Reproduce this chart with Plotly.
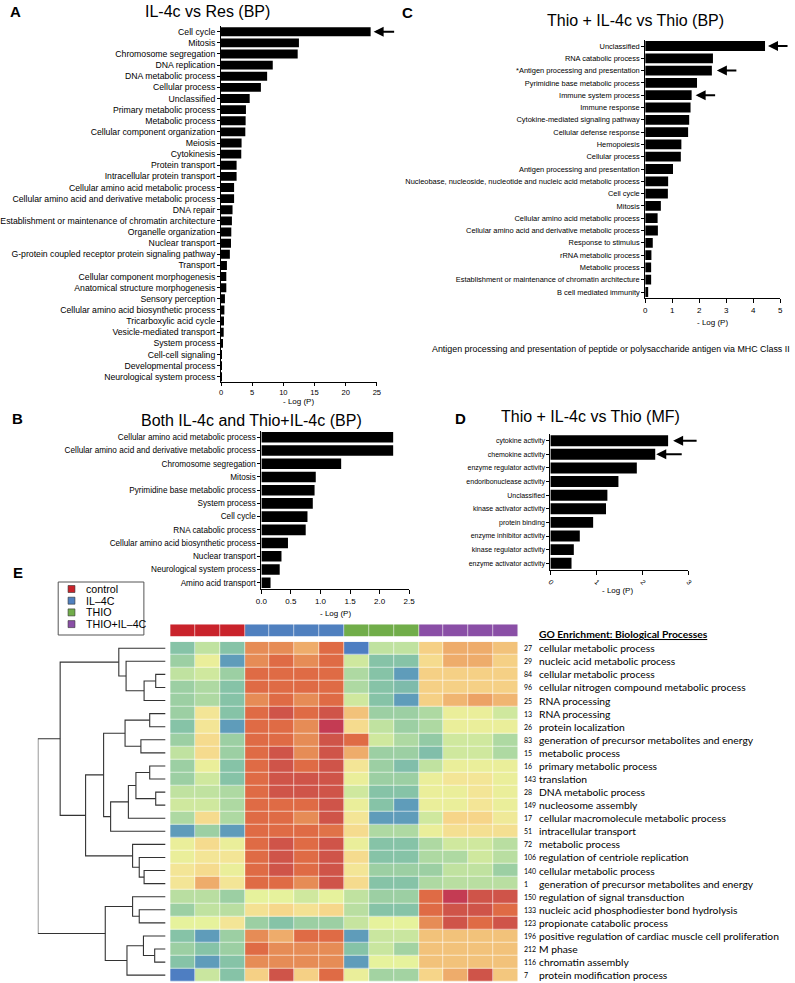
import plotly.graph_objects as go

W, H = 795, 983
def fx(p): return p / W
def fy(p): return 1 - p / H

# ---------------- data ----------------
A_labels = ["Cell cycle", "Mitosis", "Chromosome segregation", "DNA replication", "DNA metabolic process",
            "Cellular process", "Unclassified", "Primary metabolic process", "Metabolic process",
            "Cellular component organization", "Meiosis", "Cytokinesis", "Protein transport",
            "Intracellular protein transport", "Cellular amino acid metabolic process",
            "Cellular amino acid and derivative metabolic process", "DNA repair",
            "Establishment or maintenance of chromatin architecture", "Organelle organization",
            "Nuclear transport", "G-protein coupled receptor protein signaling pathway", "Transport",
            "Cellular component morphogenesis", "Anatomical structure morphogenesis", "Sensory perception",
            "Cellular amino acid biosynthetic process", "Tricarboxylic acid cycle", "Vesicle-mediated transport",
            "System process", "Cell-cell signaling", "Developmental process", "Neurological system process"]
A_values = [24.0, 12.5, 12.3, 8.3, 7.4, 6.4, 4.6, 4.0, 3.95, 3.9, 3.3, 3.25, 2.5, 2.5, 2.1, 2.1, 1.85,
            1.75, 1.65, 1.6, 1.42, 0.95, 0.85, 0.85, 0.63, 0.54, 0.48, 0.43, 0.27, 0.16, 0.1, 0.05]

C_labels = ["Unclassified", "RNA catabolic process", "*Antigen processing and presentation",
            "Pyrimidine base metabolic process", "Immune system process", "Immune response",
            "Cytokine-mediated signaling pathway", "Cellular defense response", "Hemopoiesis",
            "Cellular process", "Antigen processing and presentation",
            "Nucleobase, nucleoside, nucleotide and nucleic acid metabolic process", "Cell cycle", "Mitosis",
            "Cellular amino acid metabolic process", "Cellular amino acid and derivative metabolic process",
            "Response to stimulus", "rRNA metabolic process", "Metabolic process",
            "Establishment or maintenance of chromatin architecture", "B cell mediated immunity"]
C_values = [4.44, 2.51, 2.47, 1.92, 1.72, 1.68, 1.63, 1.59, 1.34, 1.32, 1.03, 0.85, 0.84, 0.58,
            0.46, 0.47, 0.28, 0.23, 0.22, 0.22, 0.11]

B_labels = ["Cellular amino acid metabolic process", "Cellular amino acid and derivative metabolic process",
            "Chromosome segregation", "Mitosis", "Pyrimidine base metabolic process", "System process",
            "Cell cycle", "RNA catabolic process", "Cellular amino acid biosynthetic process",
            "Nuclear transport", "Neurological system process", "Amino acid transport"]
B_values = [2.23, 2.23, 1.35, 0.92, 0.9, 0.87, 0.78, 0.75, 0.45, 0.34, 0.31, 0.155]

D_labels = ["cytokine activity", "chemokine activity", "enzyme regulator activity",
            "endoribonuclease activity", "Unclassified", "kinase activator activity", "protein binding",
            "enzyme inhibitor activity", "kinase regulator activity", "enzyme activator activity"]
D_values = [2.56, 2.28, 1.88, 1.48, 1.24, 1.21, 0.93, 0.64, 0.51, 0.46]

groups = ["control", "IL\u20134C", "THIO", "THIO+IL\u20134C"]
group_sizes = [3, 4, 3, 4]
group_colors = ["#c9232b", "#5080bf", "#71ad4a", "#8a4fa6"]

row_ids = ["27", "29", "84", "96", "25", "13", "26", "83", "15", "16", "143", "28", "149", "17", "51",
           "72", "106", "140", "1", "150", "133", "123", "196", "212", "116", "7"]
row_terms = ["cellular metabolic process", "nucleic acid metabolic process", "cellular metabolic process",
             "cellular nitrogen compound metabolic process", "RNA processing", "RNA processing",
             "protein localization", "generation of precursor metabolites and energy", "metabolic process",
             "primary metabolic process", "translation", "DNA metabolic process", "nucleosome assembly",
             "cellular macromolecule metabolic process", "intracellular transport", "metabolic process",
             "regulation of centriole replication", "cellular metabolic process",
             "generation of precursor metabolites and energy", "regulation of signal transduction",
             "nucleic acid phosphodiester bond hydrolysis", "propionate catabolic process",
             "positive regulation of cardiac muscle cell proliferation", "M phase", "chromatin assembly",
             "protein modification process"]

# heat values (1 = low/blue ... 13 = high/red), columns: 3 control, 4 IL-4C, 3 THIO, 4 THIO+IL-4C
heat = [
    [3.5, 5, 3.5, 10, 10, 9, 11, 1, 5, 5, 8, 9, 9, 8.5],
    [4, 6.5, 2, 10, 11, 10, 11, 5.5, 3.5, 3.5, 7.5, 9, 9, 8],
    [5, 5.5, 4, 11, 11, 11, 11, 4.5, 3.5, 2, 8, 8, 8, 8],
    [4, 4.5, 3.5, 11, 11, 11, 11, 4.5, 3.5, 3.2, 8, 8, 8, 8],
    [4, 4.5, 3.5, 10, 11, 10, 11, 5.5, 3.5, 2, 8, 8.8, 9.3, 8.8],
    [4, 7, 3.5, 11, 12, 11, 12, 8.5, 4, 4, 4.5, 6.5, 6.5, 5.5],
    [3.5, 7, 2, 11, 11, 10, 13, 7.5, 5, 4, 4.5, 6.5, 6.5, 6.5],
    [4, 7.5, 4, 11, 11, 10, 12, 11, 5.5, 4.5, 3.8, 5.5, 5.5, 4.5],
    [5, 7.5, 4, 11, 12, 10, 12, 9, 4, 4, 3.3, 5.5, 5.5, 4.5],
    [4, 6.5, 3.5, 11, 12, 11, 12, 7, 4, 3.3, 5, 6.5, 6.5, 6.5],
    [4, 5.5, 3.5, 11, 12, 12, 12, 6.5, 4, 4, 6.5, 7, 7, 6.5],
    [5, 5, 4.5, 11, 12, 12, 12, 5.5, 3.5, 3.5, 6.5, 6.5, 7, 6.5],
    [5.5, 5.5, 4.5, 11, 11, 11, 12, 6.5, 3.5, 2, 6.5, 6.5, 7, 6.5],
    [4.5, 7.5, 4.5, 11, 11, 10, 12, 7, 2, 2, 5.5, 7.8, 7.8, 6.8],
    [2, 4, 2, 11, 11, 11, 10.8, 7.5, 4.5, 4.5, 6.5, 7.3, 7.3, 7.3],
    [6.5, 7.5, 6.5, 11, 12, 11, 12, 6.5, 3.5, 3.5, 4.5, 5.5, 5.5, 4.8],
    [6.5, 7, 7, 11, 12, 11, 12, 7.5, 3.5, 3.5, 4.5, 4.5, 5.5, 4.8],
    [7, 7.5, 6.5, 11, 12, 11, 12, 7, 4, 4, 4, 5, 5, 4],
    [7, 9, 7, 11, 11, 10, 12, 7.5, 3.5, 3.5, 4.5, 4.8, 4.8, 4.8],
    [4.8, 4.8, 4, 6.3, 6.3, 5.5, 6.3, 5, 4, 4, 11, 13, 12, 12],
    [4, 5, 4.8, 7.2, 7.7, 7.2, 7.7, 4.8, 3.5, 3.5, 11, 12, 12, 11],
    [6.3, 6.3, 7, 4, 3.5, 4, 4, 5.2, 6.3, 6.3, 10, 12, 11, 12],
    [3.5, 2, 4, 10, 9, 11, 11, 2, 5.3, 5.3, 8.5, 8.5, 8.5, 8.5],
    [4, 3.5, 4, 11, 10, 10, 10, 3.5, 5.3, 4.2, 8.5, 8.5, 8.5, 8.5],
    [3.5, 2, 3.5, 10, 10, 10, 10, 2, 6.3, 6.3, 8.5, 8.5, 8.5, 8.5],
    [1, 5.3, 3.5, 8, 12, 8, 11, 6.5, 4.2, 4.2, 7.8, 9, 12, 8.3],
]

# dendrogram merges: (left, right, height); ids >= 26 refer to earlier merges
merges = [
    (2, 3, 0.077), (26, 4, 0.168), (1, 27, 0.309), (0, 28, 0.366),
    (5, 6, 0.124), (7, 8, 0.193), (30, 31, 0.317),
    (9, 10, 0.124), (11, 12, 0.077), (33, 34, 0.232), (35, 13, 0.291), (36, 14, 0.430),
    (32, 37, 0.485),
    (17, 18, 0.168), (16, 39, 0.206), (15, 40, 0.258),
    (38, 41, 0.626), (29, 42, 0.825),
    (20, 21, 0.206), (19, 44, 0.258),
    (23, 24, 0.085), (22, 46, 0.173), (47, 25, 0.302),
    (45, 48, 0.472), (43, 49, 1.0),
]

heat_scale = [(1, "#4e7ec2"), (2, "#5f9cba"), (3.5, "#86c3a7"), (4, "#9ccfa3"), (5, "#c0e2a0"),
              (6.3, "#e6f29c"), (7, "#f3e596"), (7.8, "#f6d589"), (8.5, "#f2c27a"), (9, "#eeac6b"),
              (10, "#e68c56"), (11, "#df6b45"), (12, "#cf5449"), (13, "#c43b53")]

# ---------------- figure ----------------
fig = go.Figure()
SANS = "Liberation Sans, Arial, sans-serif"
annotations = []
shapes = []


def axis_names(k):
    s = "" if k == 1 else str(k)
    return "x" + s, "y" + s, "xaxis" + s, "yaxis" + s


def bar_panel(k, labels, values, x0, ppu, xmax, ytop, step, dtick, lab_size, tick_size,
              tickangle=0, tickformat=None, ticklen=4):
    xa, ya, xk, yk = axis_names(k)
    n = len(labels)
    fig.add_trace(go.Bar(x=values, y=labels, orientation="h", marker=dict(color="black", line=dict(width=0)),
                         width=0.8, xaxis=xa, yaxis=ya, showlegend=False, hoverinfo="x+y"))
    top = ytop - step / 2
    bot = top + n * step
    fig.update_layout(**{
        xk: dict(domain=[fx(x0), fx(x0 + xmax * ppu)], range=[0, xmax], anchor=ya, showline=True,
                 linecolor="black", linewidth=1, ticks="outside", ticklen=ticklen, tickwidth=1,
                 tickcolor="black", dtick=dtick, tick0=0, tickformat=tickformat,
                 tickfont=dict(size=tick_size, family=SANS, color="black"), showgrid=False,
                 zeroline=False, tickangle=tickangle),
        yk: dict(domain=[fy(bot), fy(top)], type="category", categoryorder="array",
                 categoryarray=labels, range=[n - 0.5, -0.5], anchor=xa, showline=True,
                 linecolor="black", linewidth=1, ticks="outside", ticklen=3, tickwidth=1,
                 tickcolor="black", tickfont=dict(size=lab_size, family=SANS, color="black"),
                 showgrid=False, zeroline=False),
    })
    return xa, ya


def arrow(xa, ya, x, y, length, shift):
    annotations.append(dict(x=x, y=y, xref=xa, yref=ya, text="", showarrow=True, ax=length, ay=0,
                            xshift=shift, arrowhead=2, arrowsize=1, arrowwidth=2, arrowcolor="black"))


def text(x, y, s, size, anchor="center", bold=False, family=SANS, yanchor="middle"):
    annotations.append(dict(x=fx(x), y=fy(y), xref="paper", yref="paper", text=f"<b>{s}</b>" if bold else s,
                            showarrow=False, xanchor=anchor, yanchor=yanchor,
                            font=dict(size=size, family=family, color="black")))


# Panel A
xa, ya = bar_panel(1, A_labels, A_values, 218.3, 6.33, 25, 31.7, 11.13, 5, 8.7, 7.6, ticklen=3)
arrow(xa, ya, A_values[0], A_labels[0], 22, 3)
text(10, 11, "A", 15, bold=True)
text(205, 11, "IL-4c vs Res (BP)", 16)
text(297, 401, "- Log (P)", 8)

# Panel C
xa, ya = bar_panel(2, C_labels, C_values, 649, 27.4, 5, 46, 12.3, 1, 7.45, 8)
arrow(xa, ya, C_values[0], C_labels[0], 21, 3)
arrow(xa, ya, C_values[2], C_labels[2], 21, 5)
arrow(xa, ya, C_values[4], C_labels[4], 21, 4)
text(408, 12, "C", 15, bold=True)
text(639, 21, "Thio + IL-4c vs Thio (BP)", 16)
text(717, 322, "- Log (P)", 8)
text(430, 349, "Antigen processing and presentation of peptide or polysaccharide antigen via MHC Class II",
     8.9, anchor="left")

# Panel B
xa, ya = bar_panel(3, B_labels, B_values, 259.3, 60, 2.5, 437.3, 13.22, 0.5, 8.2, 8, tickformat=".1f")
text(12, 418, "B", 15, bold=True)
text(249, 420, "Both IL-4c and Thio+IL-4c (BP)", 16)
text(335, 613, "- Log (P)", 8)

# Panel D
xa, ya = bar_panel(4, D_labels, D_values, 552.7, 46.7, 3, 440.7, 13.62, 1, 7, 7, tickangle=45)
arrow(xa, ya, D_values[0], D_labels[0], 25, 5)
arrow(xa, ya, D_values[1], D_labels[1], 27, 1)
text(461, 418, "D", 15, bold=True)
text(593, 417, "Thio + IL-4c vs Thio (MF)", 16)
text(621, 590, "- Log (P)", 8)

# Panel E heatmap
n_rows = len(heat)
n_cols = len(heat[0])
cs = [((v - 1) / 12, c) for v, c in heat_scale]
fig.add_trace(go.Heatmap(z=heat, x=list(range(n_cols)), y=list(range(n_rows)), colorscale=cs, zmin=1, zmax=13,
                         showscale=False, xgap=0.6, ygap=0.6, xaxis="x5", yaxis="y5"))
hm_x0, hm_x1, hm_y0, hm_y1 = 166.7, 520, 641.7, 981.7
fig.update_layout(
    xaxis5=dict(domain=[fx(hm_x0), fx(hm_x1)], range=[-0.5, n_cols - 0.5], anchor="y5", visible=False),
    yaxis5=dict(domain=[fy(hm_y1), fy(hm_y0)], range=[n_rows - 0.5, -0.5], anchor="x5", visible=False),
)

# group annotation bar
col_group = []
for gi, s in enumerate(group_sizes):
    col_group += [gi] * s
gcs = []
for gi, c in enumerate(group_colors):
    gcs += [(gi / len(group_colors), c), ((gi + 1) / len(group_colors), c)]
fig.add_trace(go.Heatmap(z=[col_group], x=list(range(n_cols)), y=[0], colorscale=gcs, zmin=-0.5,
                         zmax=len(group_colors) - 0.5, showscale=False, xgap=0.6, xaxis="x6", yaxis="y6",
                         hoverinfo="skip"))
fig.update_layout(
    xaxis6=dict(domain=[fx(hm_x0), fx(hm_x1)], range=[-0.5, n_cols - 0.5], anchor="y6", visible=False),
    yaxis6=dict(domain=[fy(636.7), fy(624.3)], range=[-0.5, 0.5], anchor="x6", visible=False),
)

# dendrogram from merge table
pos = {i: (float(i), 0.0) for i in range(n_rows)}
dx, dy = [], []
for k, (a, b, h) in enumerate(merges):
    ya_, ha = pos[a]
    yb_, hb = pos[b]
    dx += [ha, h, h, hb, None]
    dy += [ya_, ya_, yb_, yb_, None]
    pos[n_rows + k] = ((ya_ + yb_) / 2, h)
fig.add_trace(go.Scatter(x=dx, y=dy, mode="lines", line=dict(color="#333333", width=1.1), xaxis="x7",
                         yaxis="y7", showlegend=False, hoverinfo="skip"))
fig.update_layout(
    xaxis7=dict(domain=[fx(32.3), fx(162)], range=[1.0, 0.0], anchor="y7", visible=False),
    yaxis7=dict(domain=[fy(hm_y1), fy(hm_y0)], range=[n_rows - 0.5, -0.5], anchor="x7", visible=False),
)

# row labels
for i in range(n_rows):
    annotations.append(dict(x=fx(523.5), y=i, xref="paper", yref="y5", text=row_ids[i], showarrow=False,
                            xanchor="left", yanchor="middle", font=dict(size=7, family="Lato", color="black")))
    annotations.append(dict(x=fx(539), y=i, xref="paper", yref="y5", text=row_terms[i], showarrow=False,
                            xanchor="left", yanchor="middle", font=dict(size=10.3, family="Lato", color="black")))
text(539, 634, "<span style='text-decoration:underline'>GO Enrichment: Biological Processes</span>", 10.3,
     anchor="left", bold=True, family="Lato")
text(12, 572, "E", 15, bold=True)

# legend box for groups
shapes.append(dict(type="rect", xref="paper", yref="paper", x0=fx(53), x1=fx(140), y0=fy(635), y1=fy(582),
                   line=dict(color="#555555", width=1), fillcolor="white"))
for gi, g in enumerate(groups):
    yc = 589 + gi * 11.7
    shapes.append(dict(type="rect", xref="paper", yref="paper", x0=fx(63), x1=fx(70), y0=fy(yc + 3.5),
                       y1=fy(yc - 3.5), line=dict(color="#333333", width=0.6), fillcolor=group_colors[gi]))
    text(79, yc, g, 10.7, anchor="left")

fig.update_layout(width=W, height=H, margin=dict(l=0, r=0, t=0, b=0), paper_bgcolor="white",
                  plot_bgcolor="rgba(0,0,0,0)", annotations=annotations, shapes=shapes, showlegend=False,
                  font=dict(family=SANS, color="black"))
fig.write_html("out.html", config={"displayModeBar": False},
               post_script="document.body.style.margin='0';document.body.style.padding='0';")
